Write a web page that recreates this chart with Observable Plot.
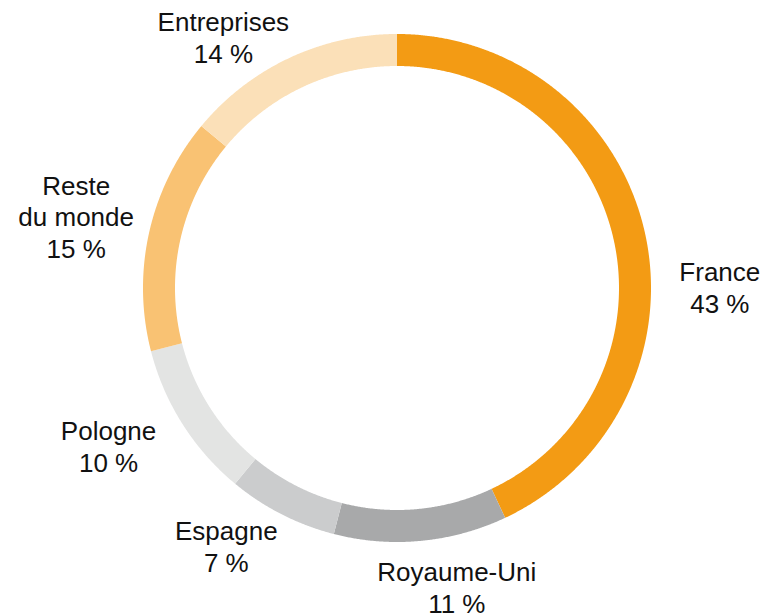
<!DOCTYPE html>
<html>
<head>
<meta charset="utf-8">
<script src="https://cdn.jsdelivr.net/npm/d3@7"></script>
<script src="https://cdn.jsdelivr.net/npm/@observablehq/plot@0.6"></script>
<style>
  html, body { margin: 0; padding: 0; background: #fff; }
  #chart { width: 762px; height: 614px; }
</style>
</head>
<body>
<div id="chart"></div>
<script>
// Data
const categories = ["France", "Royaume-Uni", "Espagne", "Pologne", "Reste du monde", "Entreprises"];
const labelLines = ["France", "Royaume-Uni", "Espagne", "Pologne", "Reste\ndu monde", "Entreprises"];
const shares = [43, 11, 7, 10, 15, 14];
const colors = ["#F39B14", "#A8A9AA", "#CBCCCD", "#E3E4E3", "#F9C273", "#FBE0B8"];

// Layout (not data)
const innerR = 0.874;
const labelR = 1.268;
const nudge = {
  "France": [8, 69],
  "Royaume-Uni": [29, -22],
  "Espagne": [-25, -30],
  "Pologne": [-17, -15],
  "Reste du monde": [-7, -2],
  "Entreprises": [-37, 40]
};

const pie = d3.pie().sort(null).value(d => d.value).startAngle(0).endAngle(2 * Math.PI);
const slices = pie(categories.map((c, i) => ({name: c, value: shares[i], label: labelLines[i] + "\n" + shares[i] + " %"})));

// ring geometry sampled along each arc
const ringPts = [];
for (const s of slices) {
  const n = Math.ceil((s.endAngle - s.startAngle) / (Math.PI / 720)) + 1;
  for (let k = 0; k < n; k++) {
    const a = s.startAngle + (s.endAngle - s.startAngle) * k / (n - 1);
    ringPts.push({
      name: s.data.name,
      ox: Math.sin(a), oy: Math.cos(a),
      ix: innerR * Math.sin(a), iy: innerR * Math.cos(a)
    });
  }
}

const labels = slices.map(s => {
  const m = (s.startAngle + s.endAngle) / 2;
  return {name: s.data.name, text: s.data.label, x: labelR * Math.sin(m), y: labelR * Math.cos(m)};
});

const textMarks = labels.map(l => Plot.text([l], {
  x: "x", y: "y", text: "text",
  dx: nudge[l.name][0], dy: nudge[l.name][1],
  textAnchor: "middle", lineAnchor: "middle", lineHeight: 1.23,
  fontSize: 26, fill: "#111"
}));

const chart = Plot.plot({
  width: 762, height: 614,
  margin: 0,
  style: {fontFamily: "'Liberation Sans', Arial, Helvetica, sans-serif", background: "#fff"},
  x: {domain: [-1, 1], range: [143, 651], axis: null},
  y: {domain: [-1, 1], range: [542, 34], axis: null},
  color: {domain: categories, range: colors},
  marks: [
    Plot.area(ringPts, {x1: "ox", y1: "oy", x2: "ix", y2: "iy", z: "name", fill: "name", curve: "linear"}),
    ...textMarks
  ]
});
document.getElementById("chart").appendChild(chart);
</script>
</body>
</html>
